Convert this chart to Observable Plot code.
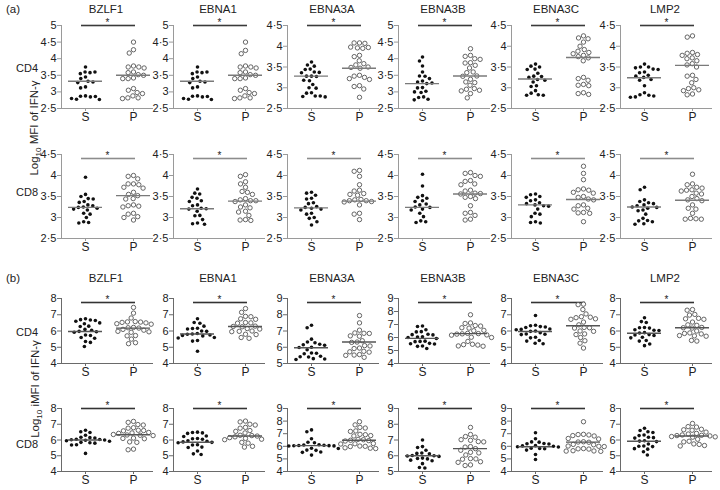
<!DOCTYPE html>
<html><head><meta charset="utf-8">
<script src="https://cdn.jsdelivr.net/npm/d3@7"></script>
<script src="https://cdn.jsdelivr.net/npm/@observablehq/plot@0.6"></script>
<style>
html,body{margin:0;padding:0;background:#fff;}
#fig{position:relative;width:720px;height:490px;overflow:hidden;font-family:"Liberation Sans",Arial,sans-serif;color:#222;}
.lbl{position:absolute;font-size:11px;white-space:nowrap;line-height:1;}
.ttl{position:absolute;font-size:11.5px;white-space:nowrap;line-height:1;transform:translate(-50%,-50%);}
.ylab{position:absolute;font-size:11.5px;white-space:nowrap;line-height:1;transform:translate(-50%,-50%) rotate(-90deg);}
.panel{position:absolute;}
.panel text{fill:#222;}
.panel g[aria-label="fx-axis tick label"] text, .panel g[aria-label="fx-axis"] text{font-size:12px;}
</style></head><body><div id="fig"></div>
<script>
// ---------- data ----------
const antigens = ["BZLF1","EBNA1","EBNA3A","EBNA3B","EBNA3C","LMP2"];
const groups = ["S","P"];

// (a) Log10 MFI of IFN-γ, CD4
const A_CD4_S = [
 [3.75,3.6,3.58,3.55,3.6,3.45,3.4,3.32,3.3,3.28,3.15,3.12,2.88,2.87,2.85,2.86,2.78,2.77,2.8],
 [3.75,3.6,3.58,3.55,3.6,3.45,3.4,3.32,3.3,3.28,3.15,3.12,2.88,2.87,2.85,2.86,2.78,2.77,2.8],
 [3.62,3.55,3.52,3.45,3.44,3.38,3.37,3.36,3.28,3.28,3.27,3.18,3.17,3.08,3.0,2.99,2.88,2.87,2.8,2.79,2.8,2.78],
 [4.05,3.93,3.78,3.6,3.48,3.47,3.4,3.33,3.3,3.27,3.25,3.13,3.12,3.02,3.0,2.98,2.85,2.83,2.78,2.76],
 [3.57,3.52,3.5,3.45,3.44,3.35,3.28,3.27,3.25,3.2,3.18,3.14,3.05,3.03,2.93,2.87,2.83,2.82,2.82],
 [3.57,3.5,3.5,3.48,3.45,3.44,3.38,3.36,3.3,3.28,3.25,3.2,3.18,3.05,2.88,2.83,2.82,2.8,2.78,2.77]
];
const A_CD4_P = [
 [4.5,4.27,4.17,3.78,3.75,3.75,3.72,3.6,3.58,3.52,3.5,3.42,3.4,3.4,3.1,3.05,2.98,2.95,2.88,2.82,2.82,2.8],
 [4.5,4.25,4.15,3.78,3.75,3.75,3.72,3.6,3.58,3.52,3.5,3.42,3.4,3.4,3.1,3.05,2.98,2.95,2.88,2.82,2.82,2.8],
 [4.08,4.08,4.07,3.98,3.97,3.96,3.95,3.78,3.75,3.65,3.58,3.55,3.5,3.49,3.47,3.3,3.28,3.25,3.22,3.2,3.05,3.03,2.97,2.77],
 [4.3,4.1,4.07,4.0,3.98,3.88,3.87,3.8,3.72,3.6,3.58,3.48,3.47,3.38,3.3,3.28,3.2,3.1,3.08,3.05,3.03,2.95,2.82],
 [4.25,4.2,4.18,4.1,4.0,3.92,3.88,3.85,3.82,3.78,3.75,3.72,3.65,3.25,3.22,3.18,3.08,3.06,3.05,2.88,2.86,2.84],
 [4.25,4.22,3.85,3.83,3.8,3.78,3.72,3.7,3.65,3.58,3.55,3.5,3.3,3.28,3.2,3.12,3.0,2.98,2.95,2.93,2.85,2.83]
];
// (a) CD8
const A_CD8_S = [
 [3.96,3.55,3.5,3.45,3.44,3.38,3.36,3.3,3.28,3.25,3.24,3.22,3.2,3.18,3.1,3.08,3.0,2.9,2.88,2.87],
 [3.68,3.58,3.56,3.48,3.46,3.4,3.38,3.3,3.28,3.22,3.21,3.2,3.15,3.05,3.04,2.95,2.87,2.85,2.84],
 [3.6,3.58,3.53,3.46,3.44,3.35,3.33,3.26,3.24,3.22,3.2,3.18,3.1,3.08,3.0,2.98,2.9,2.82],
 [4.03,3.75,3.52,3.48,3.46,3.4,3.38,3.32,3.3,3.25,3.24,3.2,3.18,3.1,3.02,2.92,2.9,2.88],
 [3.56,3.54,3.5,3.48,3.42,3.4,3.35,3.33,3.3,3.28,3.27,3.2,3.1,3.08,3.02,2.9,2.88,2.87],
 [3.72,3.66,3.42,3.38,3.35,3.33,3.3,3.28,3.25,3.24,3.22,3.18,3.16,3.08,2.98,2.93,2.92,2.9,2.85,2.84]
];
const A_CD8_P = [
 [4.0,3.98,3.92,3.8,3.8,3.78,3.72,3.7,3.6,3.55,3.52,3.45,3.44,3.3,3.28,3.27,3.25,3.1,3.08,3.02,3.0,2.94],
 [4.02,3.98,3.85,3.8,3.72,3.62,3.6,3.55,3.45,3.42,3.4,3.4,3.38,3.3,3.25,3.23,3.15,3.13,3.05,2.95,2.94,2.93],
 [4.12,4.1,3.98,3.78,3.65,3.63,3.57,3.55,3.53,3.43,3.42,3.4,3.4,3.38,3.37,3.3,3.1,3.08,2.95],
 [4.07,4.05,4.0,3.98,3.88,3.86,3.8,3.78,3.65,3.63,3.58,3.57,3.56,3.5,3.48,3.45,3.28,3.12,3.1,3.05,2.96,2.94],
 [4.22,4.05,3.9,3.68,3.66,3.65,3.6,3.58,3.5,3.48,3.44,3.42,3.3,3.28,3.22,3.2,3.12,3.11,3.1,2.9],
 [4.03,3.8,3.78,3.72,3.7,3.66,3.65,3.63,3.58,3.56,3.5,3.45,3.42,3.4,3.3,3.22,3.2,3.1,2.98,2.97,2.96,2.96]
];
// (b) Log10 iMFI of IFN-γ, CD4
const B_CD4_S = [
 [6.75,6.7,6.68,6.65,6.6,6.5,6.45,6.3,6.28,6.1,6.05,5.98,5.95,5.92,5.75,5.72,5.6,5.55,5.35,5.3,5.05],
 [6.75,6.52,6.48,6.3,6.17,6.15,6.12,6.0,5.98,5.85,5.82,5.8,5.75,5.73,5.7,5.6,5.57,5.42,5.38,4.75],
 [7.35,7.2,6.5,6.32,6.28,6.18,6.15,6.12,6.0,5.98,5.85,5.65,5.63,5.6,5.45,5.42,5.4,5.3,5.28,5.25],
 [6.88,6.85,6.6,6.45,6.43,6.25,6.22,6.2,6.05,6.03,6.0,5.92,5.72,5.7,5.68,5.55,5.52,5.5,5.35,5.32,5.15],
 [6.95,6.35,6.32,6.27,6.25,6.22,6.12,6.1,6.08,6.0,5.98,5.9,5.82,5.8,5.78,5.62,5.58,5.42,5.38,5.25,5.22],
 [6.82,6.58,6.52,6.22,6.2,6.18,6.08,6.05,6.03,5.9,5.88,5.78,5.75,5.72,5.62,5.58,5.42,5.38,5.2,5.1]
];
const B_CD4_P = [
 [7.45,7.1,6.8,6.58,6.56,6.55,6.53,6.5,6.45,6.42,6.22,6.2,6.18,6.1,6.05,5.98,5.95,5.92,5.72,5.7,5.5,5.28,5.22],
 [7.38,7.15,6.9,6.88,6.75,6.72,6.52,6.5,6.48,6.3,6.28,6.26,6.15,6.12,6.0,5.98,5.96,5.8,5.78,5.6,5.55],
 [7.95,7.5,7.05,6.88,6.86,6.85,6.7,6.68,6.4,6.32,6.3,6.1,6.08,5.95,5.92,5.75,5.72,5.7,5.55,5.52,5.5,5.38],
 [7.75,7.12,7.08,6.92,6.88,6.75,6.72,6.55,6.52,6.32,6.3,6.28,6.26,6.2,6.18,6.02,6.0,5.7,5.48,5.45,5.42,5.35,5.33],
 [7.65,7.62,7.32,7.05,6.88,6.85,6.82,6.75,6.72,6.55,6.38,6.22,6.2,6.18,6.0,5.98,5.82,5.78,5.6,5.4,5.25,4.95],
 [7.32,7.28,7.02,6.98,6.78,6.75,6.72,6.55,6.38,6.35,6.22,6.2,6.18,6.0,5.88,5.85,5.82,5.72,5.7,5.68,5.42,5.38]
];
// (b) CD8
const B_CD8_S = [
 [6.62,6.52,6.48,6.3,6.17,6.15,6.12,6.05,6.03,6.02,6.0,5.98,5.95,5.92,5.85,5.83,5.8,5.7,5.68,5.15],
 [6.5,6.48,6.45,6.42,6.25,6.22,6.1,6.08,6.05,5.95,5.92,5.88,5.85,5.83,5.7,5.68,5.55,5.52,5.3,5.12,5.08],
 [7.3,7.15,6.6,6.32,6.28,6.12,6.1,6.08,6.06,6.05,6.04,6.03,6.02,5.85,5.83,5.7,5.68,5.55,5.52,5.3],
 [7.0,6.58,6.52,6.35,6.17,6.15,6.12,6.02,6.0,5.98,5.96,5.85,5.83,5.8,5.72,5.68,5.5,5.25,5.22],
 [7.08,6.6,6.35,6.33,6.22,6.2,6.18,6.05,6.03,6.0,5.97,5.95,5.85,5.83,5.8,5.7,5.35,4.95],
 [6.75,6.6,6.52,6.48,6.32,6.28,6.17,6.15,6.12,5.95,5.93,5.9,5.75,5.62,5.6,5.58,5.45,5.42,5.25,5.05]
];
const B_CD8_P = [
 [7.18,7.12,6.98,6.95,6.78,6.75,6.62,6.6,6.58,6.48,6.45,6.42,6.35,6.32,6.3,6.28,6.12,6.1,6.08,5.88,5.85,5.42,5.38],
 [7.2,7.15,7.0,6.95,6.8,6.75,6.6,6.55,6.45,6.3,6.28,6.25,6.2,6.15,6.1,6.05,6.02,5.85,5.8,5.6,5.55],
 [7.95,7.7,7.5,7.45,7.22,7.18,6.95,6.92,6.85,6.82,6.55,6.52,6.48,6.45,6.42,6.22,6.2,6.18,6.02,6.0,5.98,5.88,5.85,5.82],
 [7.8,7.35,7.22,7.18,7.02,6.98,6.9,6.88,6.58,6.55,6.45,6.35,6.22,6.18,6.05,5.82,5.8,5.78,5.62,5.58,5.42,5.38],
 [7.95,6.95,6.93,6.9,6.85,6.82,6.62,6.58,6.36,6.34,6.32,6.15,6.12,6.02,6.0,5.98,5.82,5.8,5.78,5.65,5.63,5.62,5.6],
 [7.05,6.85,6.82,6.68,6.65,6.62,6.5,6.42,6.38,6.32,6.3,6.28,6.26,6.22,6.2,6.18,6.05,5.92,5.88,5.75,5.72,5.65,5.62]
];

// medians [S, P] as drawn
const A_CD4_MED = [[3.32,3.5],[3.32,3.5],[3.28,3.47],[3.25,3.48],[3.21,3.73],[3.24,3.54]];
const A_CD8_MED = [[3.24,3.52],[3.21,3.39],[3.23,3.39],[3.24,3.56],[3.3,3.43],[3.25,3.41]];
const B_CD4_MED = [[5.97,6.18],[5.82,6.28],[5.97,6.32],[5.93,6.3],[5.97,6.32],[5.86,6.2]];
const B_CD8_MED = [[6.0,6.33],[5.86,6.25],[6.05,6.48],[6.0,6.45],[5.97,6.33],[5.92,6.25]];

// axis domains
const A_CD4_YMIN = [2.5,2.5,2.5,2.5,2.5,2.5], A_CD4_YMAX = [5,5,4.5,5,4.5,4.5];
const A_CD8_YMIN = [2.5,2.5,2.5,2.5,2.5,2.5], A_CD8_YMAX = [4.5,4.5,4.5,4.5,4.5,4.5];
const B_CD4_YMIN = [4,4,5,4,4,4], B_CD4_YMAX = [8,8,9,9,8,8];
const B_CD8_YMIN = [4,4,4,5,4,4], B_CD8_YMAX = [8,8,9,9,9,8];
const A_TICKS = [2.5,3,3.5,4,4.5,5];
const B_TICKS = [4,5,6,7,8,9];
const SIG = ["*","*","*","*","*","*"];

const rowLabels = ["CD4","CD8"];
const sectionLabels = ["(a)","(b)"];
const yTitles = ["Log<sub style='font-size:8px'>10</sub> MFI of IFN-γ","Log<sub style='font-size:8px'>10</sub> iMFI of IFN-γ"];

// ---------- layout ----------
const axisX = [61,173,287,398,511,620];
const FACET_W = 48, ML = 30, MR = 2, MT = 20, MB = 20;
const rows = [
  {S:A_CD4_S, P:A_CD4_P, med:A_CD4_MED, ymin:A_CD4_YMIN, ymax:A_CD4_YMAX, ticks:A_TICKS, top:25, bot:108, axis:"#9a9a9a", medC:"#7a7a7a", sigC:"#3a3a3a", sigDy:0},
  {S:A_CD8_S, P:A_CD8_P, med:A_CD8_MED, ymin:A_CD8_YMIN, ymax:A_CD8_YMAX, ticks:A_TICKS, top:154, bot:238, axis:"#9a9a9a", medC:"#7a7a7a", sigC:"#8c8c8c", sigDy:4},
  {S:B_CD4_S, P:B_CD4_P, med:B_CD4_MED, ymin:B_CD4_YMIN, ymax:B_CD4_YMAX, ticks:B_TICKS, top:298, bot:363, axis:"#6a6a6a", medC:"#555", sigC:"#333", sigDy:4},
  {S:B_CD8_S, P:B_CD8_P, med:B_CD8_MED, ymin:B_CD8_YMIN, ymax:B_CD8_YMAX, ticks:B_TICKS, top:408, bot:471, axis:"#6a6a6a", medC:"#555", sigC:"#333", sigDy:0}
];
const fmt = d => String(d).replace(".", "·");
const fig = document.getElementById("fig");

function addLabel(cls, html, css) {
  const el = document.createElement("div");
  el.className = cls; el.innerHTML = html;
  Object.assign(el.style, css);
  fig.appendChild(el);
}

rows.forEach((row, ri) => {
  antigens.forEach((ag, i) => {
    const ymin = row.ymin[i], ymax = row.ymax[i];
    const ticks = row.ticks.filter(t => t >= ymin && t <= ymax);
    const sPts = row.S[i].map(v => ({g:"S", v}));
    const pPts = row.P[i].map(v => ({g:"P", v}));
    const meds = groups.map((g, k) => ({g, m: row.med[i][k]}));
    const sig = [{g:"S", y: ymax, t: SIG[i]}];
    const sigP = [{g:"P", y: ymax}];
    const baseS = [{g:"S", y: ymin}], baseP = [{g:"P", y: ymin}];
    const h = MT + (row.bot - row.top) + MB;
    const svg = Plot.plot({
      width: ML + 2*FACET_W + MR, height: h,
      marginLeft: ML, marginRight: MR, marginTop: MT, marginBottom: MB,
      style: {background:"none", overflow:"visible", color: row.axis, fontFamily:'"Liberation Sans", Arial, sans-serif', fontSize:"11px"},
      fx: {domain: groups, padding: 0, label: null, axis: "bottom", tickSize: 3, tickPadding: 1},
      y: {domain: [ymin, ymax], ticks, tickFormat: fmt, tickSize: 4, tickPadding: 1, label: null, line: true},
      marks: [
        Plot.ruleY(baseS, {fx:"g", y:"y", stroke: row.axis, strokeWidth: 1.2}),
        Plot.ruleY(baseP, {fx:"g", y:"y", insetRight: 4, stroke: row.axis, strokeWidth: 1.2}),
        Plot.ruleY(sig, {fx:"g", y:"y", insetLeft: 20, stroke: row.sigC, strokeWidth: 1.6, dy: row.sigDy}),
        Plot.ruleY(sigP, {fx:"g", y:"y", insetRight: 22, stroke: row.sigC, strokeWidth: 1.6, dy: row.sigDy}),
        Plot.text(sig, {fx:"g", y:"y", text:"t", frameAnchor:"right", dy: row.sigDy - 3, fontSize: 10}),
        Plot.dot(sPts, Plot.dodgeX({anchor:"middle", padding:1.4}, {fx:"g", y:"v", r:1.8, fill:"#111"})),
        Plot.dot(pPts, Plot.dodgeX({anchor:"middle", padding:1}, {fx:"g", y:"v", r:2.2, fill:"white", stroke:"#555", strokeWidth:0.9})),
        Plot.ruleY(meds, {fx:"g", y:"m", insetLeft: 7, insetRight: 7, stroke: row.medC, strokeWidth: 1.4})
      ]
    });
    svg.classList.add("panel");
    svg.style.left = (axisX[i] - ML) + "px";
    svg.style.top = (row.top - MT) + "px";
    fig.appendChild(svg);
  });
});

// titles, section and row labels
const titleY = [10, 279];
[0,1].forEach(s => {
  antigens.forEach((ag, i) => addLabel("ttl", ag, {left: (axisX[i] + FACET_W - 3) + "px", top: titleY[s] + "px"}));
  addLabel("ttl", sectionLabels[s], {left: "13px", top: titleY[s] + "px"});
});
const rowLabelY = [68, 192, 332, 444];
rowLabelY.forEach((y, k) => addLabel("lbl", rowLabels[k % 2], {left: "16px", top: (y - 5.5) + "px"}));
addLabel("ylab", yTitles[0], {left: "36px", top: "128px"});
addLabel("ylab", yTitles[1], {left: "37px", top: "389px"});
</script></body></html>
